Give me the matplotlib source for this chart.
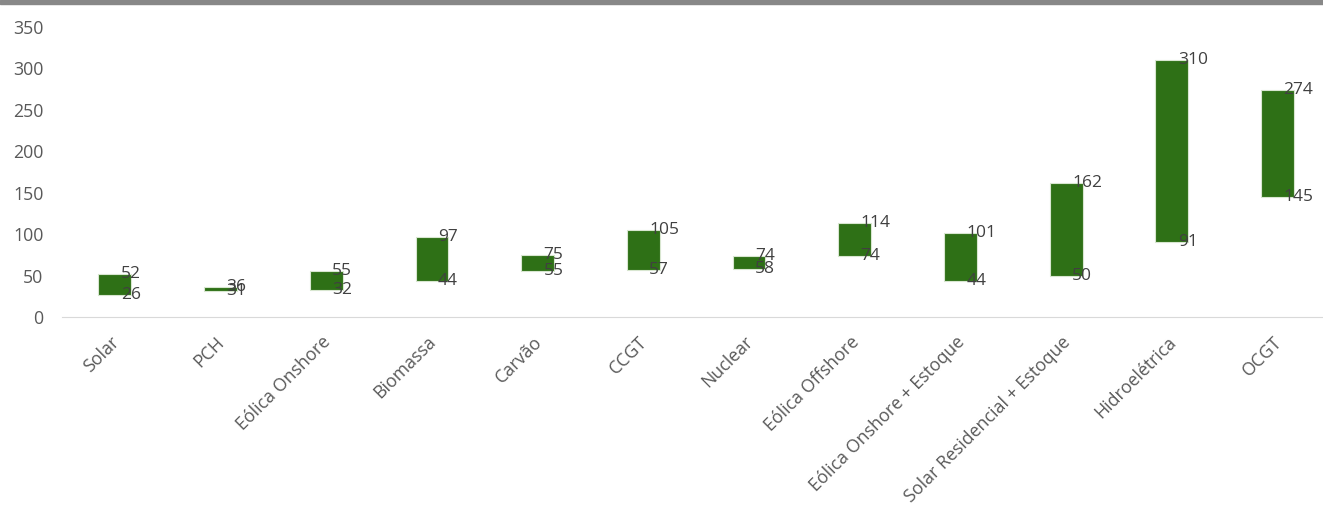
import numpy as np
import matplotlib.pyplot as plt
import matplotlib.transforms as mtransforms
from matplotlib.patches import Rectangle

# data
categories = ['Solar', 'PCH', 'Eólica Onshore', 'Biomassa', 'Carvão', 'CCGT', 'Nuclear',
              'Eólica Offshore', 'Eólica Onshore + Estoque', 'Solar Residencial + Estoque',
              'Hidroelétrica', 'OCGT']
low = [26, 31, 32, 44, 55, 57, 58, 74, 44, 50, 91, 145]
high = [52, 36, 55, 97, 75, 105, 74, 114, 101, 162, 310, 274]

plt.rcParams['font.family'] = ['Open Sans', 'DejaVu Sans']

fig = plt.figure(figsize=(13.23, 5.05), dpi=100)
ax = fig.add_axes([62/1323, 1-317/505, 1-62/1323, 290/505])

x = np.arange(len(categories))
ax.bar(x, np.array(high) - np.array(low), bottom=low, width=0.31,
       color='#2e7016', edgecolor='#d8e6d0', linewidth=0.8)

for xi, lo, hi in zip(x, low, high):
    ax.annotate(str(hi), (xi, hi), xytext=(6, 0), textcoords='offset pixels',
                ha='left', va='center', fontsize=12.5, color='#404040')
    ax.annotate(str(lo), (xi, lo), xytext=(6, 0), textcoords='offset pixels',
                ha='left', va='center', fontsize=12.5, color='#404040')

ax.set_xlim(-0.5, 11.43)
ax.set_ylim(0, 350)
ax.set_yticks(range(0, 351, 50))
ax.set_xticks(x)
ax.set_xticklabels(categories, rotation=45, ha='right', rotation_mode='anchor')
ax.tick_params(axis='both', length=0, labelsize=12.8, labelcolor='#595959')
ax.tick_params(axis='y', pad=13.5)
ax.tick_params(axis='x', pad=11.5)
# nudge category labels a little left
shift = mtransforms.ScaledTranslation(-5/100, 0, fig.dpi_scale_trans)
for lab in ax.get_xticklabels():
    lab.set_transform(lab.get_transform() + shift)
for s in ['top', 'right', 'left']:
    ax.spines[s].set_visible(False)
ax.spines['bottom'].set_color('#d9d9d9')

# grey band on top
fig.patches.append(Rectangle((0, 1-4/505), 1, 4/505, transform=fig.transFigure,
                             color='#888888', zorder=5))

fig.savefig('out.png', dpi=100)
